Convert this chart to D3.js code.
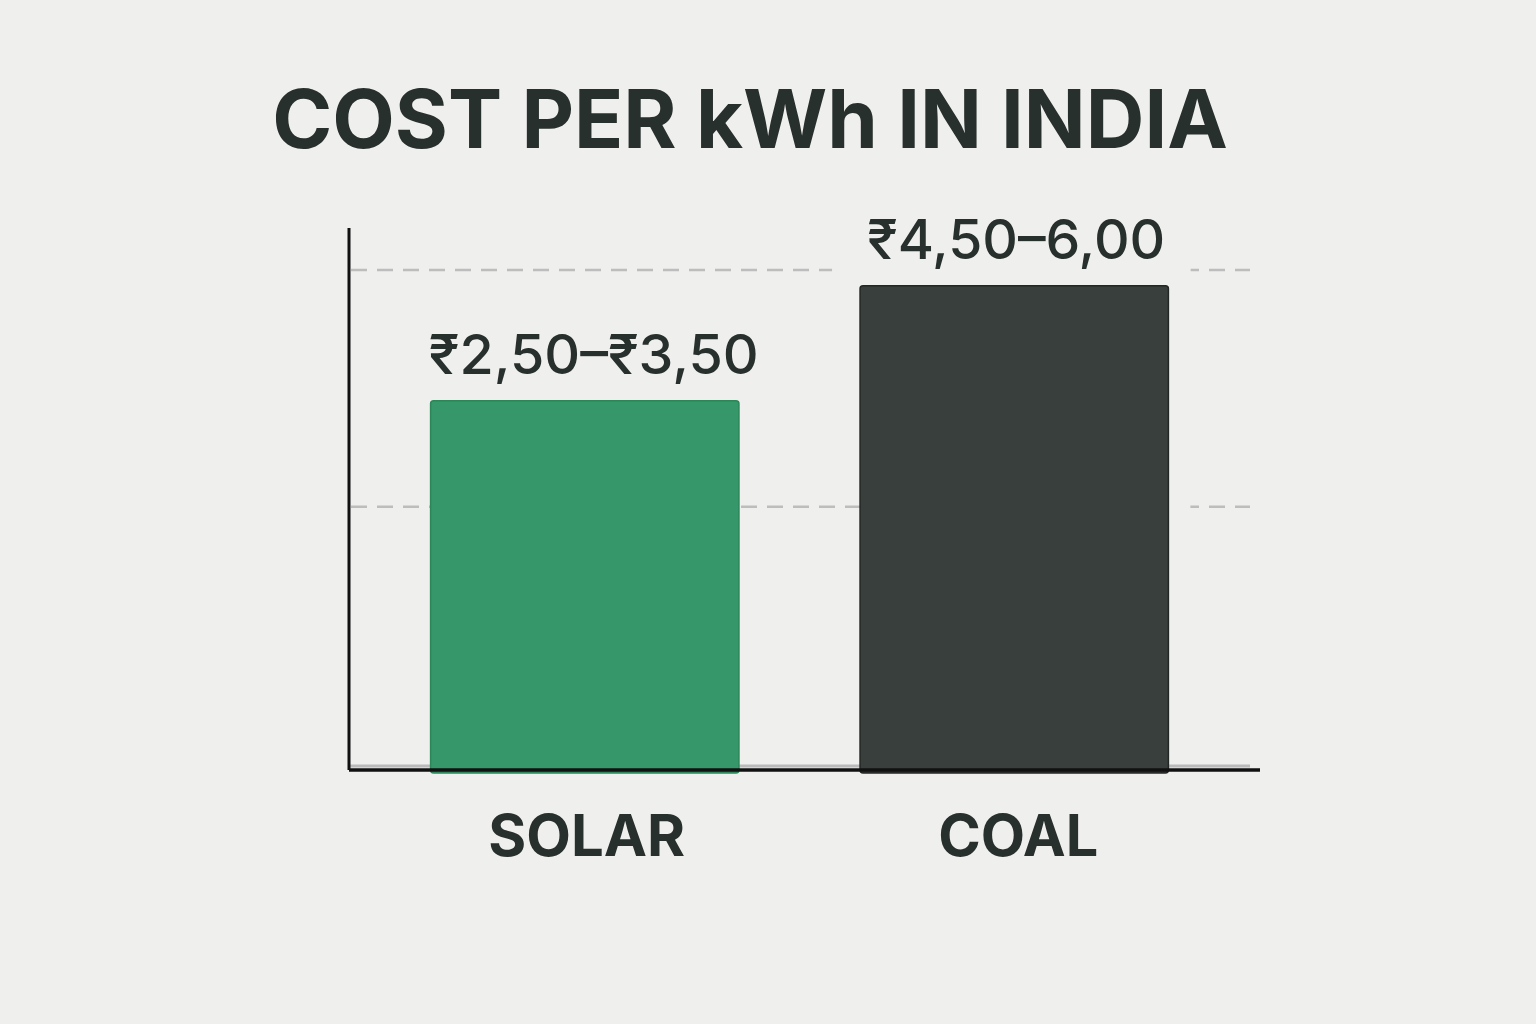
<!DOCTYPE html>
<html>
<head>
<meta charset="utf-8">
<script src="https://cdn.jsdelivr.net/npm/d3@7"></script>
<style>
  html, body { margin: 0; padding: 0; background: #efefee; }
  svg { display: block; }
</style>
</head>
<body>
<svg width="1536" height="1024" viewBox="0 0 1536 1024"></svg>
<script>
// data
const categories = ["SOLAR", "COAL"];
const barValues = [4.43, 5.81];           // bar height
const valueLabels = ["₹2,50–₹3,50", "₹4,50–6,00"];
const gridValues = [3.16, 6];
const chartTitle = "COST PER kWh IN INDIA";

const svg = d3.select("svg");
const width = 1536, height = 1024;
const fontStack = "Inter, 'Noto Sans', 'DejaVu Sans', sans-serif";
const ink = "#27302c";

const plotLeft = 349, plotRight = 1260, plotTop = 228, baseline = 770;

const x = d3.scaleBand()
    .domain(categories)
    .range([plotLeft, 1250])
    .paddingInner(0.282)
    .paddingOuter(0.19);

const y = d3.scaleLinear()
    .domain([0, 6])
    .range([baseline, 270]);

const fills = { SOLAR: "#35976a", COAL: "#393f3c" };
const strokes = { SOLAR: "#2b8758", COAL: "#222725" };

svg.append("rect").attr("width", width).attr("height", height).attr("fill", "#efefee");

// title
const title = svg.append("text")
    .attr("x", 750)
    .attr("y", 148)
    .attr("text-anchor", "middle")
    .attr("font-family", fontStack)
    .attr("font-weight", 700)
    .attr("font-size", 76)
    .attr("fill", ink)
    .text(chartTitle);
fitWidth(title, 956);

// gridlines
svg.append("g")
    .selectAll("line")
    .data(gridValues)
    .join("line")
    .attr("x1", plotLeft + 2)
    .attr("x2", 1250)
    .attr("y1", d => y(d))
    .attr("y2", d => y(d))
    .attr("stroke", "#bdbdbd")
    .attr("stroke-width", 2.5)
    .attr("stroke-dasharray", "16 10");

// gap in gridlines around the tallest bar
const tallest = categories[barValues.indexOf(d3.max(barValues))];
svg.append("rect")
    .attr("x", x(tallest) - 28)
    .attr("y", plotTop)
    .attr("width", x.bandwidth() + 50)
    .attr("height", y(d3.max(barValues)) - plotTop)
    .attr("fill", "#efefee");
svg.append("rect")
    .attr("x", x(tallest) + x.bandwidth())
    .attr("y", plotTop)
    .attr("width", 22)
    .attr("height", baseline - plotTop - 8)
    .attr("fill", "#efefee");

// faint shadow under the baseline
svg.append("line")
    .attr("x1", plotLeft).attr("x2", 1250)
    .attr("y1", baseline - 4).attr("y2", baseline - 4)
    .attr("stroke", "#bababa").attr("stroke-width", 3);

// bars
svg.append("g")
    .selectAll("rect")
    .data(categories)
    .join("rect")
    .attr("x", d => x(d))
    .attr("y", (d, i) => y(barValues[i]))
    .attr("width", x.bandwidth())
    .attr("height", (d, i) => baseline + 3 - y(barValues[i]))
    .attr("rx", 3)
    .attr("fill", d => fills[d])
    .attr("stroke", d => strokes[d])
    .attr("stroke-width", 1.5);

// value labels
svg.append("g")
    .selectAll("text")
    .data(categories)
    .join("text")
    .attr("x", (d, i) => x(d) + x.bandwidth() / 2 + (i === 0 ? 9 : 2))
    .attr("y", (d, i) => y(barValues[i]) - 27)
    .attr("text-anchor", "middle")
    .attr("font-family", fontStack)
    .attr("font-weight", 500)
    .attr("font-size", 50)
    .attr("fill", ink)
    .text((d, i) => valueLabels[i])
    .each(function (d, i) { fitWidth(d3.select(this), i === 0 ? 330 : 298); });

// axes
svg.append("line")
    .attr("x1", plotLeft).attr("x2", plotRight)
    .attr("y1", baseline).attr("y2", baseline)
    .attr("stroke", "#111").attr("stroke-width", 3.5);
svg.append("line")
    .attr("x1", plotLeft).attr("x2", plotLeft)
    .attr("y1", plotTop).attr("y2", baseline)
    .attr("stroke", "#111").attr("stroke-width", 3);

// category labels
svg.append("g")
    .selectAll("text")
    .data(categories)
    .join("text")
    .attr("x", (d, i) => x(d) + x.bandwidth() / 2 + (i === 0 ? 2 : 4))
    .attr("y", 856)
    .attr("text-anchor", "middle")
    .attr("font-family", fontStack)
    .attr("font-weight", 700)
    .attr("font-size", 56)
    .attr("fill", ink)
    .text(d => d)
    .each(function (d) { fitWidth(d3.select(this), d === "SOLAR" ? 197 : 160); });

function fitWidth(sel, target) {
    const w = sel.node().getComputedTextLength();
    const fs = parseFloat(sel.attr("font-size"));
    sel.attr("font-size", fs * target / w);
}
</script>
</body>
</html>
